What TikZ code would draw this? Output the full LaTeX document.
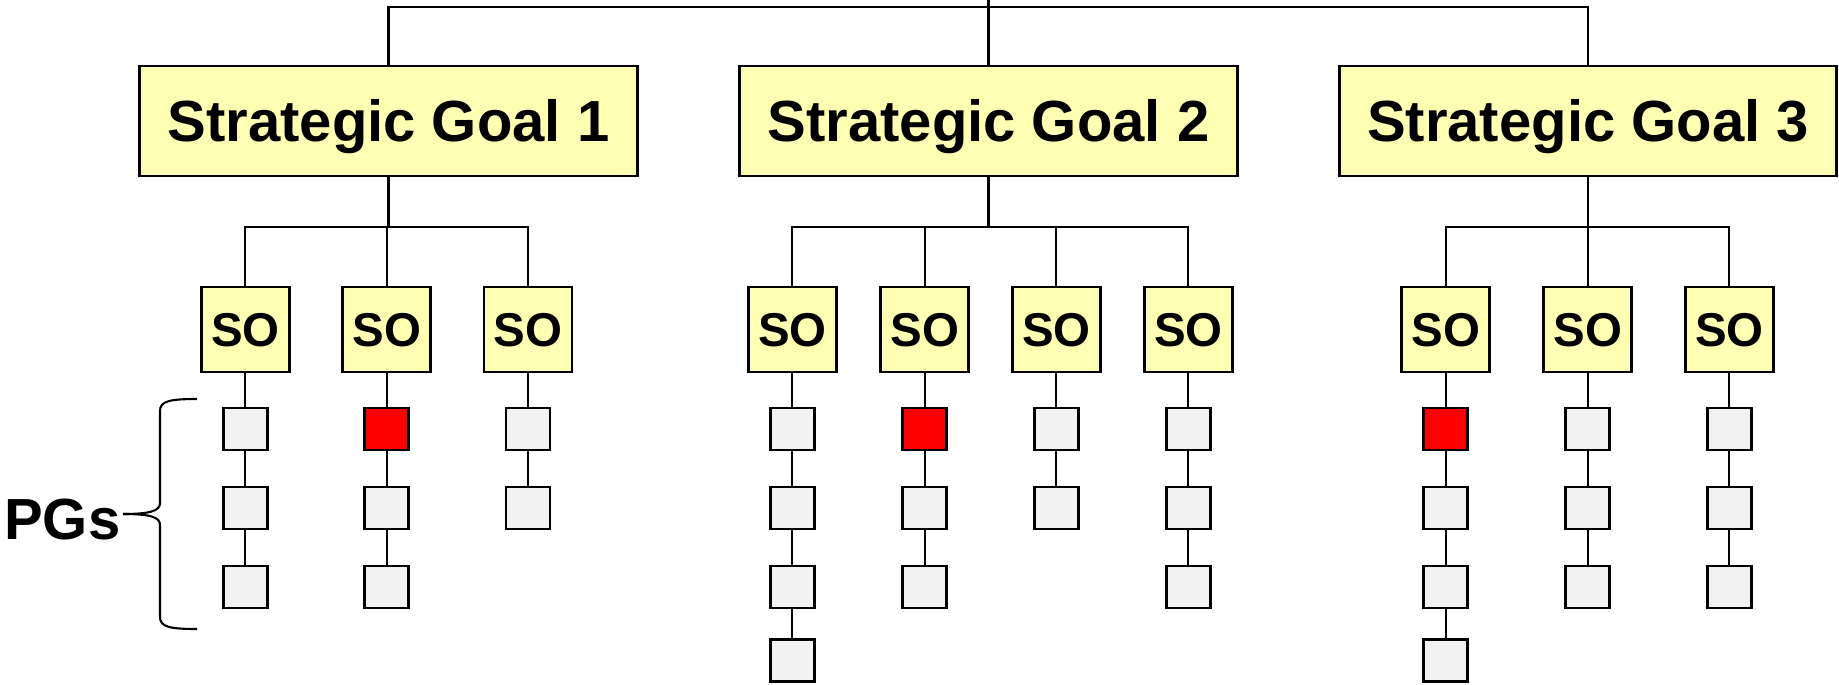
\documentclass[tikz,border=0pt]{standalone}
\usepackage{fontspec}
\setmainfont{Liberation Sans}
\definecolor{goalyellow}{RGB}{255,255,179}
\definecolor{pggray}{RGB}{242,242,242}
\tikzset{
  goal/.style={draw,fill=goalyellow,rectangle,line width=0.8pt,minimum width=4.97cm,minimum height=1.10cm,inner sep=0pt,text height=11.8pt,text depth=0pt,font=\fontsize{16.5}{18}\selectfont\bfseries},
  sobox/.style={draw,fill=goalyellow,rectangle,line width=0.8pt,minimum width=0.88cm,minimum height=0.85cm,inner sep=0pt,text height=9.7pt,text depth=0pt,font=\fontsize{13.5}{15}\selectfont\bfseries},
  pg/.style={draw,fill=pggray,rectangle,line width=0.8pt,minimum width=0.44cm,minimum height=0.42cm,inner sep=0pt},
  pgred/.style={pg,fill=red},
  link/.style={line width=0.6pt},
}
\begin{document}
\begin{tikzpicture}[x=0.01cm,y=-0.01cm]
        \useasboundingbox (0,0) rectangle (1839,685);
        %% Goals
        \node[goal] (G1) at (388.5,121) {Strategic Goal 1};
        \node[goal] (G2) at (988.5,121) {Strategic Goal 2};
        \node[goal] (G3) at (1588,121) {Strategic Goal 3};
        \coordinate (top) at (988.5,0);
        \coordinate (T) at (988.5,7);
        \draw[link] (G1.north) |- (T) -| (G3.north);
        \draw[link] (G2.north) -- (top);
        %% Objectives
        \node[sobox] (S11) at (245.3,329.5) {SO};
        \node[sobox] (S12) at (386.8,329.5) {SO};
        \node[sobox] (S13) at (528,329.5) {SO};
        \node[sobox] (S21) at (792.3,329.5) {SO};
        \node[sobox] (S22) at (924.7,329.5) {SO};
        \node[sobox] (S23) at (1056.3,329.5) {SO};
        \node[sobox] (S24) at (1188.3,329.5) {SO};
        \node[sobox] (S31) at (1445.8,329.5) {SO};
        \node[sobox] (S32) at (1587.8,329.5) {SO};
        \node[sobox] (S33) at (1729.3,329.5) {SO};
        \coordinate (b1) at (G1.south |- 0,227);
        \coordinate (b2) at (G2.south |- 0,227);
        \coordinate (b3) at (G3.south |- 0,227);
        \draw[link] (G1.south) -- (b1);
        \draw[link] (G2.south) -- (b2);
        \draw[link] (G3.south) -- (b3);
        \draw[link] (b1) -| (S11.north);
        \draw[link] (b1) -| (S12.north);
        \draw[link] (b1) -| (S13.north);
        \draw[link] (b2) -| (S21.north);
        \draw[link] (b2) -| (S22.north);
        \draw[link] (b2) -| (S23.north);
        \draw[link] (b2) -| (S24.north);
        \draw[link] (b3) -| (S31.north);
        \draw[link] (b3) -| (S32.north);
        \draw[link] (b3) -| (S33.north);
        %% PGs under goal 1
        \node[pg] (P111) at (245.3,429) {};
        \node[pg] (P112) at (245.3,508) {};
        \node[pg] (P113) at (245.3,587) {};
        \node[pgred] (P121) at (386.8,429) {};
        \node[pg] (P122) at (386.8,508) {};
        \node[pg] (P123) at (386.8,587) {};
        \node[pg] (P131) at (528,429) {};
        \node[pg] (P132) at (528,508) {};
        \draw[link] (S11) -- (P111) -- (P112) -- (P113);
        \draw[link] (S12) -- (P121) -- (P122) -- (P123);
        \draw[link] (S13) -- (P131) -- (P132);
        %% PGs under goal 2
        \node[pg] (P211) at (792.3,429) {};
        \node[pg] (P212) at (792.3,508) {};
        \node[pg] (P213) at (792.3,587) {};
        \node[pg] (P214) at (792.3,660.5) {};
        \node[pgred] (P221) at (924.7,429) {};
        \node[pg] (P222) at (924.7,508) {};
        \node[pg] (P223) at (924.7,587) {};
        \node[pg] (P231) at (1056.3,429) {};
        \node[pg] (P232) at (1056.3,508) {};
        \node[pg] (P241) at (1188.3,429) {};
        \node[pg] (P242) at (1188.3,508) {};
        \node[pg] (P243) at (1188.3,587) {};
        \draw[link] (S21) -- (P211) -- (P212) -- (P213) -- (P214);
        \draw[link] (S22) -- (P221) -- (P222) -- (P223);
        \draw[link] (S23) -- (P231) -- (P232);
        \draw[link] (S24) -- (P241) -- (P242) -- (P243);
        %% PGs under goal 3
        \node[pgred] (P311) at (1445.8,429) {};
        \node[pg] (P312) at (1445.8,508) {};
        \node[pg] (P313) at (1445.8,587) {};
        \node[pg] (P314) at (1445.8,660.5) {};
        \node[pg] (P321) at (1587.8,429) {};
        \node[pg] (P322) at (1587.8,508) {};
        \node[pg] (P323) at (1587.8,587) {};
        \node[pg] (P331) at (1729.3,429) {};
        \node[pg] (P332) at (1729.3,508) {};
        \node[pg] (P333) at (1729.3,587) {};
        \draw[link] (S31) -- (P311) -- (P312) -- (P313) -- (P314);
        \draw[link] (S32) -- (P321) -- (P322) -- (P323);
        \draw[link] (S33) -- (P331) -- (P332) -- (P333);
        %% Brace
        \node[font=\fontsize{16.5}{18}\selectfont\bfseries,anchor=base east,inner sep=0pt] (PGs) at (121,539) {PGs};
        \coordinate (tip) at (123,514);
        \draw[link] (tip) .. controls (150,514) and (160,511) .. (160,503) -- (160,411) .. controls (160,401) and (170,399) .. (197,399);
        \draw[link] (tip) .. controls (150,514) and (160,517) .. (160,525) -- (160,617) .. controls (160,627) and (170,629) .. (197,629);
    \end{tikzpicture}
\end{document}
